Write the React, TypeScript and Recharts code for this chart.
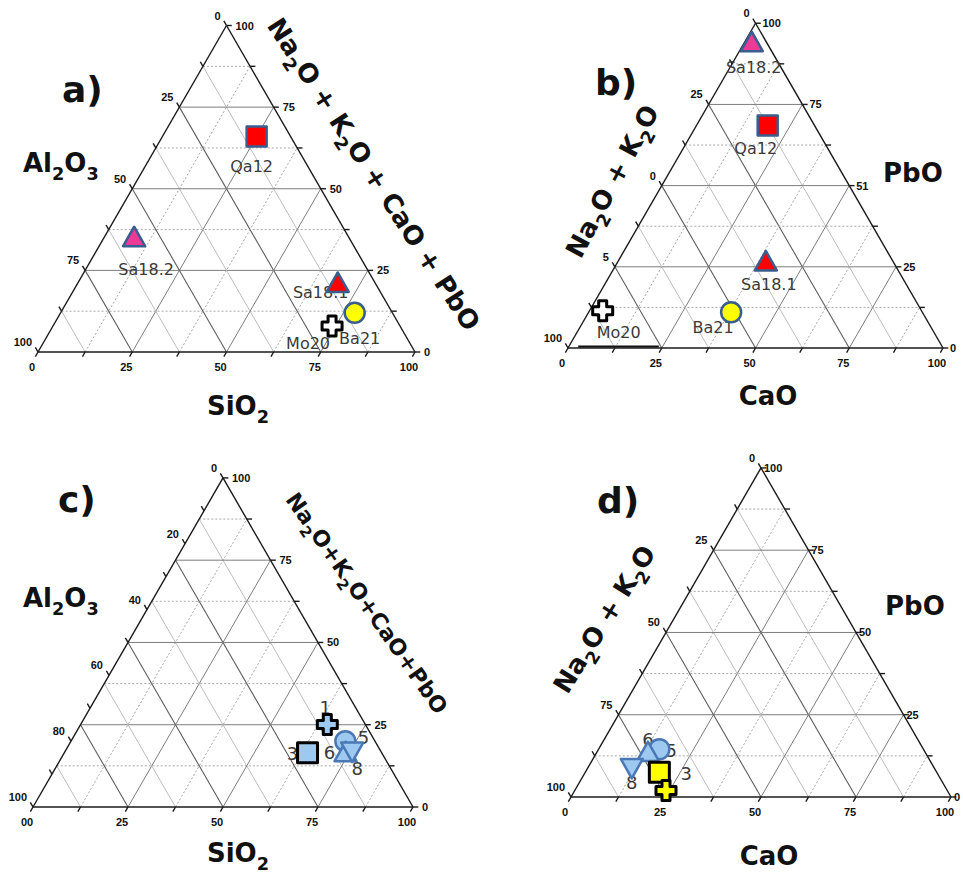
import React from 'react';
import { ScatterChart, Scatter, XAxis, YAxis, ReferenceLine } from 'recharts';

// a) Al2O3 – SiO2 – (Na2O+K2O+CaO+PbO), wt% normalised
const samplesA = ['Qa12', 'Sa18.2', 'Sa18.1', 'Ba21', 'Mo20'];
const al2o3A = [9, 57, 10, 10, 18];
const sio2A = [25, 8, 69, 78, 74];
const fluxA = [66, 35, 21, 12, 8];

// b) (Na2O+K2O) – CaO – PbO
const samplesB = ['Sa18.2', 'Qa12', 'Sa18.1', 'Ba21', 'Mo20'];
const alkaliB = [4, 12.5, 34, 51, 85];
const caoB = [2, 19, 39.5, 38, 3.5];
const pboB = [94, 68.5, 26.5, 11, 11.5];

// c) Al2O3 – SiO2 – (Na2O+K2O+CaO+PbO), second group
const samplesC = ['3', '1', '5', '6', '8'];
const al2o3C = [19.5, 10, 7.8, 9.5, 7.5];
const sio2C = [64, 64.9, 72.2, 74, 75.5];
const fluxC = [16.5, 25.1, 20, 16.5, 17];

// d) (Na2O+K2O) – CaO – PbO, second group
const samplesD = ['5', '6', '8', '3', '1'];
const alkaliD = [69.5, 73, 79.5, 73, 74];
const caoD = [16, 13.5, 11.5, 19.5, 24];
const pboD = [14.5, 13.5, 9, 7.5, 2];

// tick values and their printed labels (left = bottom-left corner component,
// right = apex component, bottom = bottom-right corner component)
const ticks25 = [0, 25, 50, 75, 100];
const ticks20 = [0, 20, 40, 60, 80, 100];
const labels25 = ['0', '25', '50', '75', '100'];
const leftLabelsB = ['0', '25', '0', '5', '100'];
const rightLabelsB = ['0', '25', '51', '75', '100'];
const leftLabelsC = ['0', '20', '40', '60', '80', '100'];
const bottomLabelsC = ['00', '25', '50', '75', '100'];

// short rule printed along the CaO base in b)
const baseRuleB = [2.5, 24];

const R3 = Math.sqrt(3) / 2;
const STEPS = [12.5, 25, 37.5, 50, 62.5, 75, 87.5];

type Pt = { x: number; y: number };
// s = bottom-right component, f = apex component (percent)
const cart = (s: number, f: number): Pt => ({ x: s + f / 2, y: f * R3 });

type Box = { left: number; top: number; width: number; height: number };
type Frame = { box: Box; ox: number; oy: number; side: number };

const frameA: Frame = { box: { left: 0, top: 0, width: 481, height: 436 }, ox: 38, oy: 352, side: 377 };
const frameB: Frame = { box: { left: 481, top: 0, width: 482, height: 436 }, ox: 568, oy: 348, side: 375 };
const frameC: Frame = { box: { left: 0, top: 436, width: 481, height: 437 }, ox: 33, oy: 807, side: 380 };
const frameD: Frame = { box: { left: 481, top: 436, width: 482, height: 437 }, ox: 571, oy: 797, side: 380 };

const domains = (fr: Frame) => {
  const k = 100 / fr.side;
  const { left, top, width, height } = fr.box;
  return {
    x: [(left - fr.ox) * k, (left + width - fr.ox) * k] as [number, number],
    y: [(fr.oy - (top + height)) * k, (fr.oy - top) * k] as [number, number],
  };
};

type LineStyle = { stroke: string; width: number; dash?: string };
const MAJOR: LineStyle = { stroke: '#7d7d7d', width: 1 };
const MAJOR_DARK: LineStyle = { stroke: '#5e5e5e', width: 1.1 };
const DOTTED: LineStyle = { stroke: '#a8a8a8', width: 1, dash: '2 2' };
const LIGHT: LineStyle = { stroke: '#bdbdbd', width: 1 };
const EDGE: LineStyle = { stroke: '#1a1a1a', width: 1.4 };

type Seg = { key: string; a: Pt; b: Pt; st: LineStyle };

function gridSegments(): Seg[] {
  const out: Seg[] = [];
  STEPS.forEach((t) => {
    const major = t % 25 === 0;
    out.push({ key: `f${t}`, a: cart(0, t), b: cart(100 - t, t), st: major ? MAJOR : DOTTED });
    out.push({ key: `s${t}`, a: cart(t, 0), b: cart(t, 100 - t), st: major ? MAJOR : DOTTED });
    out.push({ key: `a${t}`, a: cart(100 - t, 0), b: cart(0, 100 - t), st: major ? MAJOR_DARK : LIGHT });
  });
  out.push({ key: 'e1', a: cart(0, 0), b: cart(100, 0), st: EDGE });
  out.push({ key: 'e2', a: cart(100, 0), b: cart(0, 100), st: EDGE });
  out.push({ key: 'e3', a: cart(0, 100), b: cart(0, 0), st: EDGE });
  return out;
}

const TICK = 1.4;
function tickSegments(leftStep: number): Seg[] {
  const out: Seg[] = [];
  for (let t = 0; t <= 100.001; t += leftStep) {
    const p = cart(0, 100 - t);
    out.push({ key: `tl${t}`, a: p, b: { x: p.x - TICK * 0.5, y: p.y + TICK * R3 }, st: EDGE });
  }
  for (let t = 0; t <= 100.001; t += 12.5) {
    const r = cart(100 - t, t);
    out.push({ key: `tr${t}`, a: r, b: { x: r.x + TICK, y: r.y }, st: EDGE });
    const b = cart(t, 0);
    out.push({ key: `tb${t}`, a: b, b: { x: b.x - TICK * 0.5, y: b.y - TICK * R3 }, st: EDGE });
  }
  return out;
}

type Side = 'left' | 'right' | 'bottom';
const TICK_TEXT: Record<Side, { dx: number; dy: number; anchor: 'start' | 'middle' | 'end' }> = {
  left: { dx: -6, dy: -6, anchor: 'end' },
  right: { dx: 9, dy: 4, anchor: 'start' },
  bottom: { dx: -6, dy: 19, anchor: 'middle' },
};

type TickSet = { left: [number[], string[]]; right: [number[], string[]]; bottom: [number[], string[]] };

function tickRows(ts: TickSet) {
  const rows: any[] = [];
  ts.left[0].forEach((v, i) => rows.push({ ...cart(0, 100 - v), text: ts.left[1][i], side: 'left' }));
  ts.right[0].forEach((v, i) => rows.push({ ...cart(100 - v, v), text: ts.right[1][i], side: 'right' }));
  ts.bottom[0].forEach((v, i) => rows.push({ ...cart(v, 0), text: ts.bottom[1][i], side: 'bottom' }));
  return rows;
}

type MarkerStyle = { kind: 'square' | 'circle' | 'up' | 'down' | 'plus'; fill: string; stroke: string; size?: number; sw?: number };

const STEEL = '#3a5d8f';
const BLUE_EDGE = '#4a78b4';
const LIGHT_BLUE = '#9dc8f0';

const markersA: Record<string, MarkerStyle> = {
  Qa12: { kind: 'square', fill: '#ff0000', stroke: STEEL },
  'Sa18.2': { kind: 'up', fill: '#ee3a97', stroke: STEEL },
  'Sa18.1': { kind: 'up', fill: '#ff0000', stroke: STEEL },
  Ba21: { kind: 'circle', fill: '#ffff00', stroke: STEEL },
  Mo20: { kind: 'plus', fill: '#ffffff', stroke: '#000000', sw: 3 },
};
const markersC: Record<string, MarkerStyle> = {
  '1': { kind: 'plus', fill: LIGHT_BLUE, stroke: '#000000', sw: 3 },
  '3': { kind: 'square', fill: LIGHT_BLUE, stroke: '#000000', sw: 3 },
  '5': { kind: 'circle', fill: LIGHT_BLUE, stroke: BLUE_EDGE },
  '6': { kind: 'up', fill: LIGHT_BLUE, stroke: BLUE_EDGE },
  '8': { kind: 'down', fill: LIGHT_BLUE, stroke: BLUE_EDGE },
};
const markersD: Record<string, MarkerStyle> = {
  ...markersC,
  '1': { kind: 'plus', fill: '#ffff00', stroke: '#000000', sw: 3 },
  '3': { kind: 'square', fill: '#ffff00', stroke: '#000000', sw: 3 },
};

// label placement relative to the marker centre (text centre x, baseline y)
const offsetsA: Record<string, [number, number]> = {
  Qa12: [-5, 35], 'Sa18.2': [12, 37], 'Sa18.1': [-17, 15], Ba21: [5, 31], Mo20: [-24, 23],
};
const offsetsB: Record<string, [number, number]> = {
  'Sa18.2': [2, 30], Qa12: [-12, 28], 'Sa18.1': [3, 28], Ba21: [-18, 21], Mo20: [16, 27],
};
const offsetsC: Record<string, [number, number]> = {
  '1': [-2, -10], '3': [-15, 7], '5': [18, 3], '6': [-16, 6], '8': [5, 24],
};
const offsetsD: Record<string, [number, number]> = {
  '6': [0, -7], '5': [12, 8], '3': [27, 8], '8': [0, 22],
};

function drawMarker(cx: number, cy: number, st: MarkerStyle) {
  const s = st.size ?? 20;
  const h = s / 2;
  const common = { fill: st.fill, stroke: st.stroke, strokeWidth: st.sw ?? 2.5, strokeLinejoin: 'round' as const };
  switch (st.kind) {
    case 'square':
      return <rect x={cx - h} y={cy - h} width={s} height={s} {...common} />;
    case 'circle':
      return <circle cx={cx} cy={cy} r={h} {...common} />;
    case 'up':
      return <polygon points={`${cx},${cy - h - 1} ${cx + h + 1},${cy + h - 1.5} ${cx - h - 1},${cy + h - 1.5}`} {...common} />;
    case 'down':
      return <polygon points={`${cx},${cy + h + 1} ${cx + h + 1},${cy - h + 1.5} ${cx - h - 1},${cy - h + 1.5}`} {...common} />;
    default: {
      const a = s * 0.2;
      const d = `M${cx - a},${cy - h}H${cx + a}V${cy - a}H${cx + h}V${cy + a}H${cx + a}V${cy + h}H${cx - a}V${cy + a}H${cx - h}V${cy - a}H${cx - a}Z`;
      return <path d={d} {...common} />;
    }
  }
}

type PanelProps = {
  frame: Frame;
  names: string[];
  bottomLeft: number[];
  bottomRight: number[];
  apex: number[];
  markers: Record<string, MarkerStyle>;
  offsets: Record<string, [number, number]>;
  ticks: TickSet;
  leftTickStep: number;
  tickFont: number;
  labelFont: number;
  rightLabelGap?: number;
  extra?: Seg[];
};

function TernaryPanel(p: PanelProps) {
  const dom = domains(p.frame);
  const rows = p.names.map((name, i) => {
    const tot = p.bottomLeft[i] + p.bottomRight[i] + p.apex[i];
    return { ...cart((p.bottomRight[i] / tot) * 100, (p.apex[i] / tot) * 100), name };
  });
  const segs = [...gridSegments(), ...tickSegments(p.leftTickStep), ...(p.extra ?? [])];
  const labelRows = rows.filter((r) => p.offsets[r.name]);

  return (
    <div style={{ position: 'absolute', left: p.frame.box.left, top: p.frame.box.top }}>
      <ScatterChart width={p.frame.box.width} height={p.frame.box.height} margin={{ top: 0, right: 0, bottom: 0, left: 0 }}>
        <XAxis type="number" dataKey="x" domain={dom.x} hide allowDataOverflow />
        <YAxis type="number" dataKey="y" domain={dom.y} hide allowDataOverflow />
        {segs.map((g) => (
          <ReferenceLine
            key={g.key}
            segment={[g.a, g.b]}
            stroke={g.st.stroke}
            strokeWidth={g.st.width}
            strokeDasharray={g.st.dash}
            ifOverflow="visible"
          />
        ))}
        <Scatter
          data={tickRows(p.ticks)}
          isAnimationActive={false}
          shape={(sp: any) => {
            const side = sp.payload.side as Side;
            const o = TICK_TEXT[side];
            const dx = side === 'right' && p.rightLabelGap != null ? p.rightLabelGap : o.dx;
            return (
              <text
                x={sp.cx + dx}
                y={sp.cy + o.dy}
                textAnchor={o.anchor}
                fontFamily="'Liberation Sans', Arial, sans-serif"
                fontWeight="bold"
                fontSize={p.tickFont}
                fill="#111"
              >
                {sp.payload.text}
              </text>
            );
          }}
        />
        <Scatter
          data={labelRows}
          isAnimationActive={false}
          shape={(sp: any) => {
            const [dx, dy] = p.offsets[sp.payload.name];
            return (
              <text
                x={sp.cx + dx}
                y={sp.cy + dy}
                textAnchor="middle"
                fontFamily="'DejaVu Sans', sans-serif"
                fontSize={p.labelFont}
                fill="#3a3a3a"
              >
                {sp.payload.name}
              </text>
            );
          }}
        />
        <Scatter
          data={rows}
          isAnimationActive={false}
          shape={(sp: any) => drawMarker(sp.cx, sp.cy, p.markers[sp.payload.name])}
        />
      </ScatterChart>
    </div>
  );
}

// chemical formula with subscripted digits, e.g. "Na_2O"
function formula(s: string, size: number) {
  const bits = s.split(/_(\d)/);
  const shift = size * 0.3;
  return bits.map((b, i) =>
    i % 2 === 1 ? (
      <tspan key={i} fontSize={size * 0.68} dy={shift}>
        {b}
      </tspan>
    ) : (
      <tspan key={i} fontSize={size} dy={i === 0 ? 0 : -shift}>
        {b}
      </tspan>
    )
  );
}

const TITLE_FONT = "'DejaVu Sans', sans-serif";

function Title({ x, y, text, size = 26, anchor = 'start' }: { x: number; y: number; text: string; size?: number; anchor?: 'start' | 'middle' }) {
  return (
    <text x={x} y={y} fontFamily={TITLE_FONT} fontWeight="bold" fontSize={size} textAnchor={anchor} fill="#111">
      {formula(text, size)}
    </text>
  );
}

function RotTitle({ cx, cy, angle, text, size }: { cx: number; cy: number; angle: number; text: string; size: number }) {
  return (
    <text
      transform={`translate(${cx},${cy}) rotate(${angle})`}
      x={0}
      y={size * 0.36}
      fontFamily={TITLE_FONT}
      fontWeight="bold"
      fontSize={size}
      textAnchor="middle"
      fill="#111"
    >
      {formula(text, size)}
    </text>
  );
}

const ticksStd: TickSet = { left: [ticks25, labels25], right: [ticks25, labels25], bottom: [ticks25, labels25] };
const ticksB: TickSet = { left: [ticks25, leftLabelsB], right: [ticks25, rightLabelsB], bottom: [ticks25, labels25] };
const ticksC: TickSet = { left: [ticks20, leftLabelsC], right: [ticks25, labels25], bottom: [ticks25, bottomLabelsC] };

const ruleB: Seg[] = [
  { key: 'rule', a: cart(baseRuleB[0], 0.45), b: cart(baseRuleB[1], 0.45), st: { stroke: '#111', width: 2 } },
];

export default function App() {
  return (
    <div style={{ position: 'absolute', left: 0, top: 0, width: 963, height: 873, background: '#fff', overflow: 'hidden' }}>
      <TernaryPanel
        frame={frameA}
        names={samplesA}
        bottomLeft={al2o3A}
        bottomRight={sio2A}
        apex={fluxA}
        markers={markersA}
        offsets={offsetsA}
        ticks={ticksStd}
        leftTickStep={12.5}
        tickFont={11}
        labelFont={16}
      />
      <TernaryPanel
        frame={frameB}
        names={samplesB}
        bottomLeft={alkaliB}
        bottomRight={caoB}
        apex={pboB}
        markers={markersA}
        offsets={offsetsB}
        ticks={ticksB}
        leftTickStep={12.5}
        tickFont={11}
        labelFont={16}
        rightLabelGap={7}
        extra={ruleB}
      />
      <TernaryPanel
        frame={frameC}
        names={samplesC}
        bottomLeft={al2o3C}
        bottomRight={sio2C}
        apex={fluxC}
        markers={markersC}
        offsets={offsetsC}
        ticks={ticksC}
        leftTickStep={10}
        tickFont={11}
        labelFont={18}
      />
      <TernaryPanel
        frame={frameD}
        names={samplesD}
        bottomLeft={alkaliD}
        bottomRight={caoD}
        apex={pboD}
        markers={markersD}
        offsets={offsetsD}
        ticks={ticksStd}
        leftTickStep={12.5}
        tickFont={11}
        labelFont={18}
        rightLabelGap={3}
      />
      <svg width={963} height={873} style={{ position: 'absolute', left: 0, top: 0, pointerEvents: 'none' }}>
        <text x={62} y={102} fontFamily={TITLE_FONT} fontWeight="bold" fontSize={36} fill="#111">a)</text>
        <text x={595} y={95} fontFamily={TITLE_FONT} fontWeight="bold" fontSize={36} fill="#111">b)</text>
        <text x={58} y={512} fontFamily={TITLE_FONT} fontWeight="bold" fontSize={36} fill="#111">c)</text>
        <text x={597} y={513} fontFamily={TITLE_FONT} fontWeight="bold" fontSize={36} fill="#111">d)</text>

        <Title x={23} y={172} text="Al_2O_3" />
        <Title x={238} y={415} text="SiO_2" anchor="middle" />
        <RotTitle cx={374} cy={174} angle={57} text="Na_2O + K_2O + CaO + PbO" size={26} />

        <Title x={883} y={182} text="PbO" />
        <Title x={768} y={405} text="CaO" anchor="middle" />
        <RotTitle cx={612} cy={181} angle={-62} text="Na_2O + K_2O" size={26} />

        <Title x={23} y={607} text="Al_2O_3" />
        <Title x={238} y={862} text="SiO_2" anchor="middle" />
        <RotTitle cx={367} cy={603} angle={55} text="Na_2O+K_2O+CaO+PbO" size={22} />

        <Title x={885} y={615} text="PbO" />
        <Title x={769} y={865} text="CaO" anchor="middle" />
        <RotTitle cx={604} cy={619} angle={-58} text="Na_2O + K_2O" size={26} />
      </svg>
    </div>
  );
}
